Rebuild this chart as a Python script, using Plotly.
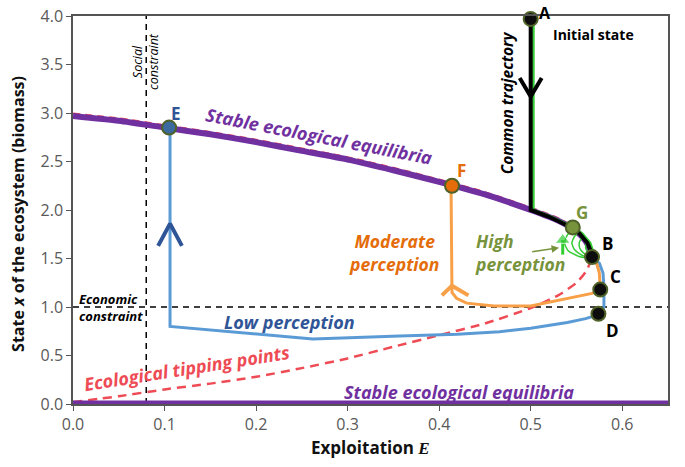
import plotly.graph_objects as go

# ---------------- data ----------------
# upper stable equilibrium branch
E_up = [0.0, 0.05, 0.10, 0.15, 0.20, 0.25, 0.30, 0.35, 0.40, 0.45, 0.50, 0.53, 0.55, 0.56, 0.567]
x_up = [2.97, 2.92, 2.85, 2.78, 2.70, 2.61, 2.52, 2.41, 2.29, 2.16, 2.00, 1.89, 1.78, 1.68, 1.55]
# red dashed seen just above the purple branch
x_up_red = [2.995, 2.945, 2.875, 2.805, 2.725, 2.635, 2.545, 2.435, 2.315, 2.185, 2.025, 1.915, 1.805, 1.70, 1.56]
# ecological tipping points (lower unstable branch)
E_tip = [0.0, 0.05, 0.10, 0.15, 0.20, 0.25, 0.30, 0.35, 0.40, 0.45, 0.50, 0.53, 0.55, 0.56, 0.567]
x_tip = [0.02, 0.08, 0.15, 0.21, 0.28, 0.37, 0.47, 0.59, 0.71, 0.83, 0.99, 1.12, 1.25, 1.36, 1.50]
# lower stable equilibrium
E_low = [0.0, 0.65]
x_low = [0.0, 0.0]

# common trajectory
E_common = [0.50, 0.50, 0.52, 0.54, 0.553, 0.562, 0.568]
x_common = [3.97, 2.00, 1.93, 1.84, 1.76, 1.66, 1.52]
E_common_g = [0.503, 0.503, 0.523, 0.543, 0.556, 0.565, 0.570]
x_common_g = [3.95, 2.00, 1.93, 1.84, 1.76, 1.66, 1.52]

# low perception trajectory
E_lowp = [0.567, 0.575, 0.579, 0.580, 0.580, 0.578, 0.574, 0.560, 0.540, 0.500, 0.466, 0.420, 0.357, 0.262, 0.106, 0.106]
x_lowp = [1.50, 1.45, 1.35, 1.20, 1.00, 0.95, 0.92, 0.88, 0.84, 0.78, 0.745, 0.72, 0.70, 0.67, 0.80, 2.85]

# moderate perception trajectory
E_mod = [0.567, 0.572, 0.575, 0.576, 0.576, 0.567, 0.540, 0.500, 0.460, 0.430, 0.419, 0.414, 0.413]
x_mod = [1.50, 1.45, 1.35, 1.25, 1.18, 1.14, 1.09, 1.01, 1.01, 1.04, 1.09, 1.15, 2.25]

# high perception loops
E_high1 = [0.567, 0.553, 0.541, 0.537, 0.540, 0.546]
x_high1 = [1.50, 1.52, 1.58, 1.66, 1.74, 1.80]
E_high2 = [0.567, 0.557, 0.548, 0.545, 0.548, 0.553]
x_high2 = [1.50, 1.53, 1.59, 1.66, 1.73, 1.77]
E_high3 = [0.567, 0.560, 0.554, 0.553, 0.556]
x_high3 = [1.50, 1.54, 1.60, 1.66, 1.72]
E_high4 = [0.567, 0.563, 0.560, 0.561]
x_high4 = [1.50, 1.55, 1.61, 1.67]
E_high_arrow = [0.535, 0.535]
x_high_arrow = [1.54, 1.69]

# direction chevrons (arm, apex, arm)
E_arrow_black = [0.488, 0.500, 0.512]
x_arrow_black = [3.36, 3.17, 3.36]
E_arrow_blue = [0.093, 0.106, 0.119]
x_arrow_blue = [1.63, 1.86, 1.63]
E_arrow_orange = [0.403, 0.414, 0.432]
x_arrow_orange = [1.12, 1.22, 1.12]

# named states
pt_names = ["A", "B", "C", "D", "E", "F", "G"]
pt_E = [0.500, 0.567, 0.576, 0.574, 0.105, 0.414, 0.546]
pt_x = [3.97, 1.515, 1.18, 0.93, 2.85, 2.25, 1.82]
pt_fill = ["#0d0d0d", "#0d0d0d", "#0d0d0d", "#0d0d0d", "#3a6aa0", "#e46c0a", "#77933c"]
lbl_E = [0.516, 0.584, 0.593, 0.589, 0.112, 0.424, 0.556]
lbl_x = [4.08, 1.655, 1.31, 0.76, 3.00, 2.41, 1.97]
lbl_col = ["#000000", "#000000", "#000000", "#000000", "#2f5597", "#e46c0a", "#77933c"]

social_E = 0.08
economic_x = 1.0

x_ticks = [0.0, 0.1, 0.2, 0.3, 0.4, 0.5, 0.6]
y_ticks = [0.0, 0.5, 1.0, 1.5, 2.0, 2.5, 3.0, 3.5, 4.0]
Y_MAX = 4.0

PURPLE = "#7030a0"
RED = "#ee4b55"
BLUE_LINE = "#5b9bd5"
BLUE_TXT = "#2f5597"
ORANGE_LINE = "#f7a048"
ORANGE_TXT = "#e46c0a"
GREEN = "#33cc33"
OLIVE = "#77933c"
OLIVE_DARK = "#4f6228"
FONT = "Open Sans"

fig = go.Figure()

def line(xs, ys, color, width, dash=None, shape="linear"):
    fig.add_trace(go.Scatter(x=xs, y=ys, mode="lines", hoverinfo="skip",
                             line=dict(color=color, width=width, dash=dash, shape=shape,
                                       smoothing=0.6 if shape == "spline" else None)))

# constraints
line([social_E, social_E], [0, 4], "#000000", 1.5, dash="6px,5px")
line([0, 0.65], [economic_x, economic_x], "#000000", 1.5, dash="6px,5px")

# equilibria
line(E_up, x_up_red, RED, 2, dash="7px,5px", shape="spline")
line(E_tip, x_tip, RED, 2.5, dash="9px,6px", shape="spline")
line(E_up, x_up, PURPLE, 6, shape="spline")
line(E_low, x_low, PURPLE, 7)

# trajectories
line(E_lowp, x_lowp, BLUE_LINE, 3)
line(E_mod, x_mod, ORANGE_LINE, 3)
for ex, xx in [(E_high1, x_high1), (E_high2, x_high2), (E_high3, x_high3), (E_high4, x_high4)]:
    line(ex, xx, GREEN, 1.5, shape="spline")
line(E_common_g, x_common_g, GREEN, 2.5)
line(E_common, x_common, "#000000", 4)
fig.add_trace(go.Scatter(x=E_high_arrow, y=x_high_arrow, mode="lines+markers", hoverinfo="skip",
                         line=dict(color=GREEN, width=3),
                         marker=dict(symbol=["circle", "triangle-up"], size=[0, 13], color=GREEN)))

# chevrons
line(E_arrow_black, x_arrow_black, "#000000", 4)
line(E_arrow_blue, x_arrow_blue, BLUE_TXT, 4)
line(E_arrow_orange, x_arrow_orange, ORANGE_LINE, 4)

# state markers
fig.add_trace(go.Scatter(x=pt_E, y=pt_x, mode="markers", hoverinfo="skip", cliponaxis=False,
                         marker=dict(size=14, color=pt_fill,
                                     line=dict(color=OLIVE_DARK, width=2))))

ann = []
for n, e, v, c in zip(pt_names, lbl_E, lbl_x, lbl_col):
    if v > Y_MAX:
        # label above the plotting area: hang it from the top edge of the page
        ann.append(dict(x=e, y=1.0, yref="paper", yshift=16, text=f"<b>{n}</b>", showarrow=False,
                        yanchor="top", font=dict(family=FONT, size=16, color=c)))
    else:
        ann.append(dict(x=e, y=v, text=f"<b>{n}</b>", showarrow=False,
                        font=dict(family=FONT, size=17, color=c)))

def txt(text, x, y, color, size, angle=0, xanchor="center", align="center"):
    ann.append(dict(x=x, y=y, text=text, showarrow=False, textangle=angle,
                    xanchor=xanchor, yanchor="middle", align=align,
                    font=dict(family=FONT, size=size, color=color)))

txt("<b>Initial state</b>", 0.569, 3.81, "#000000", 14)
txt("<b><i>Stable ecological equilibria</i></b>", 0.269, 2.76, PURPLE, 18, angle=11)
txt("<b><i>Stable ecological equilibria</i></b>", 0.422, 0.12, PURPLE, 18)
txt("<b><i>Ecological tipping points</i></b>", 0.125, 0.37, RED, 18, angle=-9)
txt("<b><i>Low perception</i></b>", 0.237, 0.845, BLUE_TXT, 18)
txt("<b><i>Moderate<br>perception</i></b>", 0.351, 1.557, ORANGE_TXT, 17.5)
txt("<b><i>High<br>perception</i></b>", 0.437, 1.557, OLIVE, 17.5, xanchor="left", align="left")
txt("<b><i>Common trajectory</i></b>", 0.474, 3.11, "#000000", 15.5, angle=-90)
txt("<i>Social<br>constraint</i>", 0.079, 3.53, "#000000", 12.5, angle=-90)
txt("<b><i>Economic<br>constraint</i></b>", 0.004, 1.0, "#000000", 13, xanchor="left", align="left")

# pointer from "High perception" to the green loops
ann.append(dict(x=0.531, y=1.61, ax=0.500, ay=1.567, axref="x", ayref="y", xref="x", yref="y",
                text="", showarrow=True, arrowhead=2, arrowsize=1, arrowwidth=1.5,
                arrowcolor=OLIVE))

# axis titles
ann.append(dict(xref="paper", yref="paper", x=-0.0924, y=0.49, textangle=-90, showarrow=False,
                xanchor="center", yanchor="middle",
                text="<b>State <i>x</i> of the ecosystem (biomass)</b>",
                font=dict(family=FONT, size=16, color="#111111")))
ann.append(dict(xref="paper", yref="paper", x=0.5, y=-0.111, showarrow=False,
                xanchor="center", yanchor="middle",
                text="<b>Exploitation </b><span style=\"font-family:'Liberation Serif'\"><b><i>E</i></b></span>",
                font=dict(family=FONT, size=17, color="#111111")))

fig.update_layout(
    width=685, height=467,
    margin=dict(l=73, r=17, t=16, b=63),
    paper_bgcolor="white", plot_bgcolor="white",
    showlegend=False,
    annotations=ann,
    font=dict(family=FONT),
)
fig.update_xaxes(range=[0, 0.65], tickvals=x_ticks, ticktext=[f"{v:.1f}" for v in x_ticks],
                 showgrid=False, zeroline=False, showline=True, linecolor="#555555", linewidth=1.5,
                 mirror=True, ticks="outside", ticklen=5, tickcolor="#555555", automargin=False,
                 tickfont=dict(family=FONT, size=16, color="#595959"))
fig.update_yaxes(range=[0, Y_MAX], tickvals=y_ticks, ticktext=[f"{v:.1f}" for v in y_ticks],
                 showgrid=False, zeroline=False, showline=True, linecolor="#555555", linewidth=1.5,
                 mirror=True, ticks="outside", ticklen=5, tickcolor="#555555", automargin=False,
                 tickfont=dict(family=FONT, size=16, color="#595959"))

fig.write_html("out.html", config={"displayModeBar": False},
               post_script="document.body.style.margin='0';document.body.style.overflow='hidden';")
